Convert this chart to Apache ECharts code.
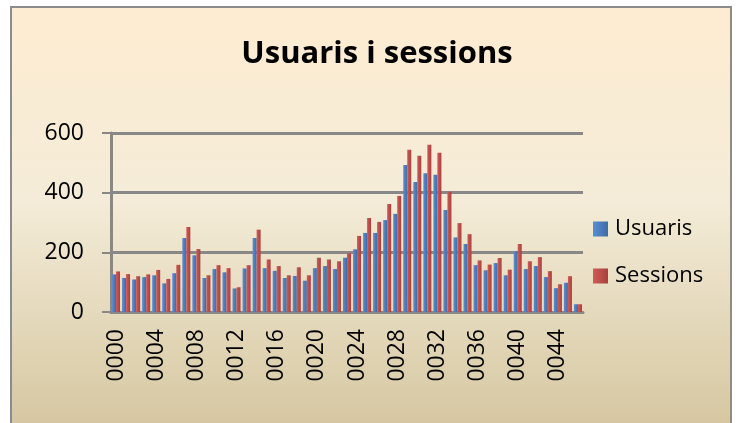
<!DOCTYPE html>
<html>
<head>
    <meta charset="utf-8">
    <title>Usuaris i sessions</title>
    <script src="https://cdn.jsdelivr.net/npm/echarts@6/dist/echarts.min.js"></script>
    <style>
        body { margin: 0; background: #ffffff; }
    </style>
</head>
<body>
    <div id="main" style="width: 739px;height:423px;"></div>

    <script type="text/javascript">

        // dades llegides del gràfic
        var categories = ['0000','0001','0002','0003','0004','0005','0006','0007','0008','0009',
                          '0010','0011','0012','0013','0014','0015','0016','0017','0018','0019',
                          '0020','0021','0022','0023','0024','0025','0026','0027','0028','0029',
                          '0030','0031','0032','0033','0034','0035','0036','0037','0038','0039',
                          '0040','0041','0042','0043','0044','0045','0046'];
        var usuaris = [126,114,109,117,123,96,130,248,190,114,
                       144,133,79,146,248,147,138,114,121,105,
                       147,154,144,182,210,265,265,308,329,493,
                       436,465,460,342,250,228,157,140,164,123,
                       204,144,154,117,80,98,26];
        var sessions = [136,127,120,126,141,111,158,285,211,123,
                        157,147,83,157,276,176,154,123,150,123,
                        182,176,170,197,255,315,302,362,389,544,
                        524,561,534,403,298,261,173,159,181,142,
                        228,170,184,137,93,120,26];
        var yTicks = [0, 200, 400, 600];

        var font = '"Open Sans", "Liberation Sans", sans-serif';
        var grey = '#888888';

        function shade(c1, c2) {
            return new echarts.graphic.LinearGradient(0, 0, 1, 0, [
                { offset: 0, color: c1 },
                { offset: 1, color: c2 }
            ]);
        }

        var myChart = echarts.init(document.getElementById('main'));

        var option = {
            animation: false,
            textStyle: { fontFamily: font },
            graphic: [{
                type: 'rect',
                z: -10,
                silent: true,
                shape: { x: 11, y: 7, width: 720, height: 430 },
                style: {
                    fill: new echarts.graphic.LinearGradient(0, 0, 0, 1, [
                        { offset: 0, color: '#FEECD1' },
                        { offset: 0.45, color: '#F4ECD8' },
                        { offset: 1, color: '#D4C59E' }
                    ]),
                    stroke: '#8c8c8c',
                    lineWidth: 2
                }
            }],
            title: {
                text: 'Usuaris i sessions',
                left: 372,
                textAlign: 'center',
                top: 34,
                textStyle: {
                    fontFamily: font,
                    fontSize: 31,
                    fontWeight: 'bold',
                    color: '#000000'
                }
            },
            legend: {
                data: ['Usuaris', 'Sessions'],
                orient: 'vertical',
                left: 593,
                top: 218,
                padding: 0,
                itemWidth: 15,
                itemHeight: 15,
                itemGap: 25,
                icon: 'rect',
                textStyle: {
                    fontFamily: font,
                    fontSize: 22,
                    color: '#000000',
                    padding: [0, 0, 0, 2]
                }
            },
            grid: {
                left: 111,
                top: 133,
                width: 472,
                height: 179
            },
            xAxis: {
                type: 'category',
                data: categories,
                axisLine: { lineStyle: { color: grey, width: 3 } },
                axisTick: {
                    interval: 0,
                    length: 8,
                    lineStyle: { color: grey, width: 2 }
                },
                axisLabel: {
                    interval: 3,
                    rotate: 90,
                    margin: 17,
                    fontFamily: font,
                    fontSize: 23,
                    color: '#000000'
                }
            },
            yAxis: {
                type: 'value',
                min: yTicks[0],
                max: yTicks[yTicks.length - 1],
                interval: 200,
                axisLine: { show: true, lineStyle: { color: grey, width: 3 } },
                axisTick: { show: true, length: 9, lineStyle: { color: grey, width: 2 } },
                splitLine: { lineStyle: { color: grey, width: 3 } },
                axisLabel: {
                    margin: 27,
                    fontFamily: font,
                    fontSize: 23,
                    color: '#000000'
                }
            },
            series: [{
                name: 'Usuaris',
                type: 'bar',
                data: usuaris,
                barWidth: 4,
                barGap: '0%',
                color: '#4F81BD',
                itemStyle: { color: shade('#5B8ED0', '#3E6BA5') }
            }, {
                name: 'Sessions',
                type: 'bar',
                data: sessions,
                barWidth: 4,
                color: '#C0504D',
                itemStyle: { color: shade('#CF5B58', '#A8403D') }
            }]
        };

        myChart.setOption(option);
    </script>
</body>
</html>
